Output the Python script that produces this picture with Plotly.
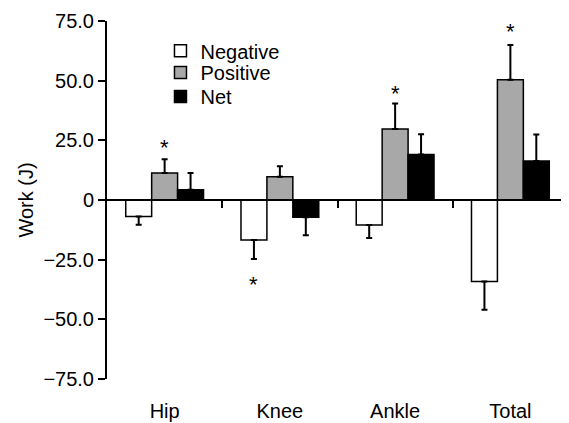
import plotly.graph_objects as go

categories = ["Hip", "Knee", "Ankle", "Total"]
negative = [-6.9, -16.8, -10.5, -34.2]
negative_sd = [3.5, 7.9, 5.4, 11.8]
positive = [11.3, 9.7, 29.7, 50.4]
positive_sd = [5.8, 4.4, 10.7, 14.5]
net = [4.3, -7.2, 19.1, 16.3]
net_sd = [7.0, 7.6, 8.5, 11.1]

y_tickvals = [75, 50, 25, 0, -25, -50, -75]
y_ticktext = ["75.0", "50.0", "25.0", "0", "\u221225.0", "\u221250.0", "\u221275.0"]

# significance markers: (category index, series offset index, y position)
star_cat = [0, 1, 2, 3]
star_series = [1, 0, 1, 1]  # 0 = negative, 1 = positive, 2 = net
star_y = [22.0, -35.2, 44.7, 70.6]

FONT = "Arial, Liberation Sans, Helvetica, sans-serif"
BARW = 0.225
xs = list(range(len(categories)))


def err(vals, sd):
    up = [s if v >= 0 else 0 for v, s in zip(vals, sd)]
    down = [s if v < 0 else 0 for v, s in zip(vals, sd)]
    return dict(type="data", symmetric=False, array=up, arrayminus=down,
                color="black", thickness=2, width=3)


series = [
    ("Negative", negative, negative_sd, "white", "legend"),
    ("Positive", positive, positive_sd, "#a8a8a8", "legend2"),
    ("Net", net, net_sd, "black", "legend3"),
]

fig = go.Figure()
for name, vals, sd, fill, lg in series:
    fig.add_trace(go.Bar(
        x=xs, y=vals, name=name, legend=lg,
        marker=dict(color=fill, line=dict(color="black", width=1.5)),
        error_y=err(vals, sd),
    ))

# invisible trace for the zero-line axis
fig.add_trace(go.Scatter(x=[0], y=[0], xaxis="x2", mode="markers",
                         marker=dict(opacity=0), showlegend=False, hoverinfo="skip"))

for c, s, y in zip(star_cat, star_series, star_y):
    fig.add_annotation(x=c + (s - 1) * BARW, y=y, text="*", showarrow=False,
                       font=dict(size=22, color="black", family=FONT),
                       xref="x", yref="y")


def legend_at(ypos):
    return dict(x=0.116, y=ypos, xanchor="left", yanchor="middle",
                font=dict(size=20), itemwidth=30,
                bgcolor="rgba(0,0,0,0)")


# page body has an 8px default margin: size the figure so it fits the 569x423 window
fig.update_layout(
    width=561, height=415,
    margin=dict(l=99, r=1, t=13, b=40),
    plot_bgcolor="white", paper_bgcolor="white",
    barmode="group", bargap=0.325, bargroupgap=0,
    font=dict(family=FONT, size=20, color="black"),
    showlegend=True,
    legend=legend_at(0.917),
    legend2=legend_at(0.856),
    legend3=legend_at(0.789),
    xaxis=dict(range=[-0.5, 3.5], tickvals=xs, ticktext=categories,
               showline=False, ticks="", showgrid=False, zeroline=False,
               ticklabelstandoff=18, tickfont=dict(size=20)),
    xaxis2=dict(range=[-0.5, 3.5], overlaying="x", anchor="free", position=0.5,
                tickvals=[0.5, 1.5, 2.5, 3.5], showticklabels=False,
                ticks="outside", ticklen=7, tickwidth=2, tickcolor="black",
                showline=True, linewidth=2, linecolor="black",
                showgrid=False, zeroline=False),
    yaxis=dict(range=[-75, 75], tickvals=y_tickvals, ticktext=y_ticktext,
               ticks="outside", ticklen=7, tickwidth=2, tickcolor="black",
               showline=True, linewidth=2, linecolor="black",
               showgrid=False, zeroline=False,
               title=dict(text="Work (J)", standoff=4, font=dict(size=20)),
               tickfont=dict(size=20)),
)

fig.write_html("out.html")
